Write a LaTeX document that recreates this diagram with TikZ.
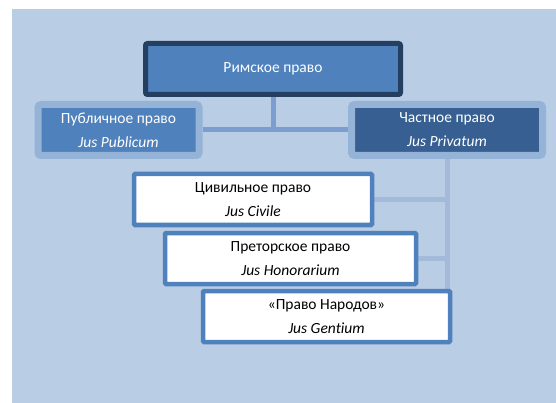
\documentclass[tikz,border=0pt]{standalone}
\usepackage{fontspec}
\setmainfont{Carlito}[Ligatures=NoCommon]
\usetikzlibrary{backgrounds,shadows}
\definecolor{bg}{HTML}{B9CDE4}
\definecolor{mid}{HTML}{4F81BD}
\definecolor{navy}{HTML}{243F60}
\definecolor{deep}{HTML}{375F91}
\definecolor{rim}{HTML}{95B3D7}
\definecolor{lnk}{HTML}{7C9DCF}
\definecolor{lnkl}{HTML}{A3BADB}
\tikzset{
  box/.style={rectangle,align=center,inner sep=0pt,minimum height=51pt,
    font=\fontsize{15.5}{24}\selectfont},
  topbox/.style={box,draw=navy,fill=mid,text=white,line width=5pt,rounded corners=2pt},
  subbox/.style={box,draw=rim,text=white,line width=7pt,rounded corners=3pt,
    drop shadow={shadow xshift=1pt,shadow yshift=-3pt,opacity=0.35}},
  leafbox/.style={box,draw=mid,fill=white,text=black,line width=4.5pt,rounded corners=1pt},
  ln/.style={draw=lnk,line width=5pt},
  lnl/.style={draw=lnkl,line width=5pt},
}
\begin{document}
\begin{tikzpicture}[x=1pt,y=-1pt]
\useasboundingbox (0,0) rectangle (556,403);
\begin{pgfonlayer}{background}
\fill[bg] (12,9) rectangle (556,403);
\end{pgfonlayer}
\node[topbox,minimum width=255pt] (rome) at (273,69) {Римское право};
\node[subbox,fill=mid,minimum width=161pt] (pub) at (118.5,130) {Публичное право\\\textit{Jus Publicum}};
\node[subbox,fill=deep,minimum width=191pt] (priv) at (447,130) {Частное право\\\textit{Jus Privatum}};
\node[leafbox,minimum width=238pt] (civ) at (253,199.5) {Цивильное право\\\textit{Jus Civile}};
\node[leafbox,minimum width=251pt] (praet) at (290.5,258.5) {Преторское право\\\textit{Jus Honorarium}};
\node[leafbox,minimum width=247pt] (gent) at (326.5,316.5) {«Право Народов»\\\textit{Jus Gentium}};
\begin{pgfonlayer}{background}
\draw[ln] (rome.south) -- (rome.south |- pub.east);
\draw[ln] (pub.east) -- (priv.west);
\draw[lnl] (priv.south) -- (priv.south |- gent.north);
\draw[lnl] (civ.east) -- (civ.east -| priv.south);
\draw[lnl] (praet.east) -- (praet.east -| priv.south);
\end{pgfonlayer}
\end{tikzpicture}
\end{document}
